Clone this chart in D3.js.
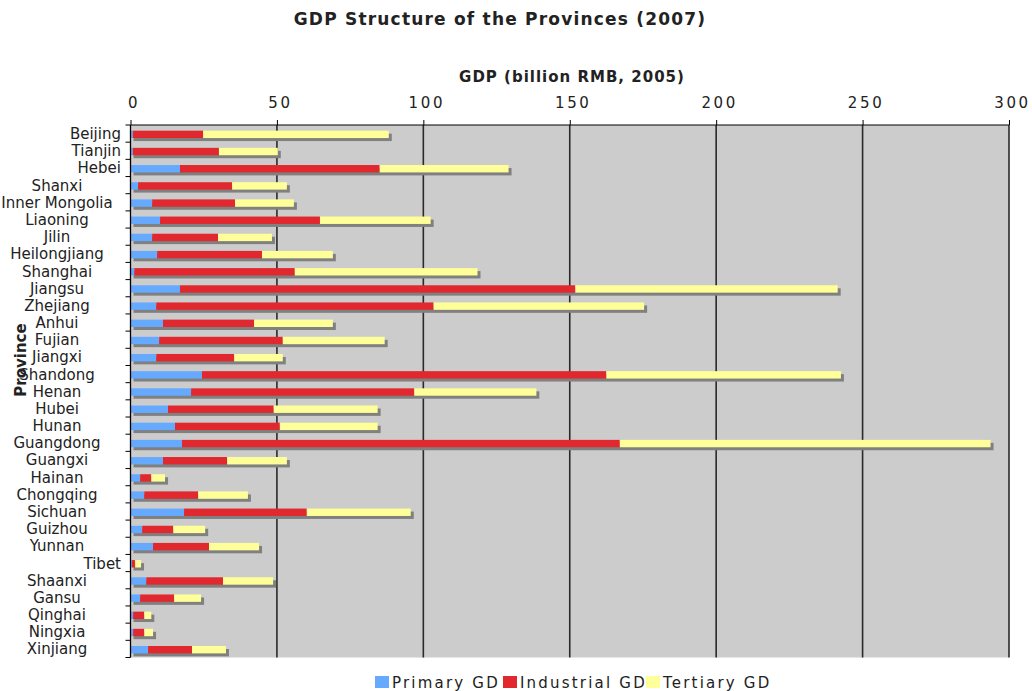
<!DOCTYPE html>
<html>
<head>
<meta charset="utf-8">
<script src="https://cdn.jsdelivr.net/npm/d3@7"></script>
<style>
  body { margin: 0; background: #fff; }
  text { font-family: "DejaVu Sans", sans-serif; fill: #222; }
</style>
</head>
<body>
<svg id="chart" width="1032" height="691"></svg>
<script>
// provinces, top to bottom
var provinces = ["Beijing", "Tianjin", "Hebei", "Shanxi", "Inner Mongolia", "Liaoning", "Jilin",
    "Heilongjiang", "Shanghai", "Jiangsu", "Zhejiang", "Anhui", "Fujian", "Jiangxi", "Shandong",
    "Henan", "Hubei", "Hunan", "Guangdong", "Guangxi", "Hainan", "Chongqing", "Sichuan", "Guizhou",
    "Yunnan", "Tibet", "Shaanxi", "Gansu", "Qinghai", "Ningxia", "Xinjiang"];

// GDP by sector, billion RMB
var primary = [0.8, 0.8, 16.9, 2.6, 7.4, 10.1, 7.4, 9.1, 1.3, 16.9, 8.8, 11.1, 9.8, 8.8, 24.4,
    20.7, 12.8, 15.2, 17.6, 11.1, 3.3, 4.7, 18.3, 4.0, 7.7, 0.5, 5.4, 3.3, 0.9, 0.9, 6.0];
var industrial = [24.0, 29.4, 68.2, 32.1, 28.3, 54.6, 22.5, 35.8, 54.8, 135.0, 94.7, 31.1, 42.2, 26.6, 138.1,
    76.2, 36.1, 35.8, 149.5, 21.9, 3.8, 18.4, 41.9, 10.6, 19.1, 1.1, 26.2, 11.6, 3.8, 3.8, 15.0];
var tertiary = [63.4, 20.1, 44.0, 18.7, 20.1, 37.8, 18.4, 24.2, 62.4, 89.6, 71.9, 26.9, 34.8, 16.6, 80.1,
    41.7, 35.5, 33.4, 126.6, 20.4, 4.7, 17.0, 35.5, 10.9, 17.1, 2.0, 17.1, 9.2, 2.4, 3.0, 11.6];

var seriesNames = ["Primary GD", "Industrial GD", "Tertiary GD"];
var xTicks = [0, 50, 100, 150, 200, 250, 300];

// labels that the original draws flush right instead of centred
var rightAligned = ["Beijing", "Tianjin", "Hebei", "Tibet"];

var colors = ["#66aaff", "#e0282e", "#ffff99"];

var svg = d3.select("#chart");
var margin = { top: 125, left: 130.5, right: 1009, bottom: 657.5 };

var x = d3.scaleLinear().domain([0, 300]).range([margin.left, margin.right]);
var y = d3.scaleBand().domain(provinces).range([margin.top, margin.bottom]);

// build stacked rows
var rows = provinces.map(function (p, i) {
    return { name: p, Primary: primary[i], Industrial: industrial[i], Tertiary: tertiary[i] };
});
var stack = d3.stack().keys(["Primary", "Industrial", "Tertiary"]);
var layers = stack(rows);

// plot background
svg.append("rect")
    .attr("x", x(0)).attr("y", margin.top)
    .attr("width", x(300) - x(0)).attr("height", margin.bottom - margin.top)
    .attr("fill", "#cccccc");

// grid lines
svg.append("g")
    .selectAll("line")
    .data(xTicks.slice(1))
    .enter()
    .append("line")
    .attr("x1", function (d) { return x(d); })
    .attr("x2", function (d) { return x(d); })
    .attr("y1", margin.top)
    .attr("y2", margin.bottom)
    .attr("stroke", "#2a2a2a")
    .attr("stroke-width", 1.6);

var barTop = y.bandwidth() * 0.33;
var barH = y.bandwidth() * 0.43;

// bar shadows
svg.append("g")
    .selectAll("rect")
    .data(rows)
    .enter()
    .append("rect")
    .attr("x", x(0) + 3)
    .attr("y", function (d) { return y(d.name) + barTop + 3; })
    .attr("width", function (d) { return x(d.Primary + d.Industrial + d.Tertiary) - x(0); })
    .attr("height", barH)
    .attr("fill", "#808080");

// stacked bars
svg.append("g")
    .selectAll("g")
    .data(layers)
    .enter()
    .append("g")
    .attr("fill", function (d, i) { return colors[i]; })
    .selectAll("rect")
    .data(function (d) { return d; })
    .enter()
    .append("rect")
    .attr("x", function (d) { return x(d[0]); })
    .attr("y", function (d) { return y(d.data.name) + barTop; })
    .attr("width", function (d) { return x(d[1]) - x(d[0]); })
    .attr("height", barH);

// top axis
var xAxis = svg.append("g")
    .attr("transform", "translate(0," + margin.top + ")")
    .call(d3.axisTop(x).tickValues(xTicks).tickSize(5).tickPadding(12).tickFormat(d3.format("d")));
xAxis.select(".domain").attr("stroke", "#000").attr("d", "M" + x(0) + ",0H" + x(300));
xAxis.selectAll(".tick line").attr("stroke", "#000");
xAxis.selectAll(".tick text")
    .style("font-family", "DejaVu Sans")
    .style("font-size", "15px")
    .style("letter-spacing", "2.6px")
    .attr("dx", "3")
    .attr("fill", "#222");

// left axis line and ticks between categories
svg.append("line")
    .attr("x1", x(0)).attr("x2", x(0))
    .attr("y1", margin.top).attr("y2", margin.bottom)
    .attr("stroke", "#000").attr("stroke-width", 1.3);
svg.append("g")
    .selectAll("line")
    .data(provinces.map(function (p) { return y(p); }).concat([margin.bottom]))
    .enter()
    .append("line")
    .attr("x1", x(0) - 5).attr("x2", x(0))
    .attr("y1", function (d) { return d; })
    .attr("y2", function (d) { return d; })
    .attr("stroke", "#000");

// category labels
svg.append("g")
    .selectAll("text")
    .data(provinces)
    .enter()
    .append("text")
    .attr("x", function (d) { return rightAligned.indexOf(d) >= 0 ? 121 : 57; })
    .attr("y", function (d) { return y(d) + y.bandwidth() / 2 + 5.5; })
    .attr("text-anchor", function (d) { return rightAligned.indexOf(d) >= 0 ? "end" : "middle"; })
    .style("font-size", "15px")
    .text(function (d) { return d; });

// titles
svg.append("text")
    .attr("x", 500).attr("y", 25)
    .attr("text-anchor", "middle")
    .style("font-size", "17px").style("font-weight", "bold")
    .style("letter-spacing", "1.2px")
    .attr("fill", "#000")
    .text("GDP Structure of the Provinces (2007)");

svg.append("text")
    .attr("x", 572).attr("y", 82)
    .attr("text-anchor", "middle")
    .style("font-size", "15px").style("font-weight", "bold")
    .style("letter-spacing", "1px")
    .attr("fill", "#000")
    .text("GDP (billion RMB, 2005)");

svg.append("text")
    .attr("transform", "translate(26,360) rotate(-90)")
    .attr("text-anchor", "middle")
    .style("font-size", "15px").style("font-weight", "bold")
    .attr("fill", "#000")
    .text("Province");

// legend
var legendX = [375, 503, 646];
var legend = svg.append("g")
    .selectAll("g")
    .data(seriesNames)
    .enter()
    .append("g")
    .attr("transform", function (d, i) { return "translate(" + legendX[i] + ",676)"; });
legend.append("rect")
    .attr("width", 14).attr("height", 12)
    .attr("fill", function (d, i) { return colors[i]; });
legend.append("text")
    .attr("x", 17).attr("y", 12)
    .style("font-size", "15px")
    .style("letter-spacing", "2.2px")
    .text(function (d) { return d; });
</script>
</body>
</html>
